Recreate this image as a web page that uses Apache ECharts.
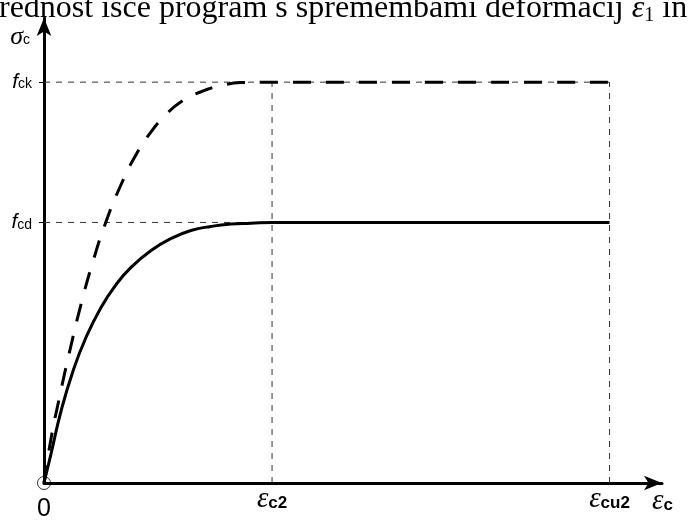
<!DOCTYPE html>
<html><head><meta charset="utf-8">
<script src="https://cdn.jsdelivr.net/npm/echarts@6/dist/echarts.min.js"></script>
<style>html,body{margin:0;padding:0;background:#fff}#c{width:689px;height:522px}</style>
</head><body><div id="c"></div>
<script>
// Strain marks on the horizontal axis (schematic units, not to scale)
const strainValues = [0, 2.0, 4.96];
const strainLabels = ['0', 'c2', 'cu2'];
// Stress levels marked on the vertical axis
const stressValues = [0.65, 1.0];
const stressLabels = ['cd', 'ck'];
// Characteristic parabola-rectangle curve (dashed)
const ckStrain = [0, 0.061, 0.132, 0.219, 0.325, 0.430, 0.544, 0.675, 0.807, 0.939, 1.070, 1.202, 1.377, 1.553, 1.728, 2.0, 4.96];
const ckStress = [0, 0.110, 0.209, 0.321, 0.446, 0.553, 0.652, 0.744, 0.819, 0.876, 0.919, 0.951, 0.976, 0.991, 0.999, 1.0, 1.0];
// Design parabola-rectangle curve (solid)
const cdStrain = [0, 0.061, 0.149, 0.254, 0.368, 0.5, 0.632, 0.763, 0.939, 1.114, 1.289, 1.465, 1.640, 1.816, 2.0, 4.96];
const cdStress = [0, 0.072, 0.179, 0.279, 0.363, 0.438, 0.495, 0.538, 0.580, 0.610, 0.630, 0.640, 0.646, 0.648, 0.65, 0.65];

const zip = (xs, ys) => xs.map((x, i) => [x, ys[i]]);
const fck = stressValues[1], fcd = stressValues[0];
const ec2 = strainValues[1], ecu2 = strainValues[2];

const guide = (data) => ({
  type: 'line', data, symbol: 'none', silent: true, z: 1,
  lineStyle: { color: '#333', width: 1, type: [6, 6] }
});

const chart = echarts.init(document.getElementById('c'));
chart.setOption({
  animation: false,
  backgroundColor: '#fff',
  title: {
    text: 'vrednost išče program s spremembami deformacij {e|ε}{s|1} in',
    left: -17, top: -8, padding: 0,
    textStyle: {
      fontFamily: 'Liberation Serif', fontSize: 32, fontWeight: 'normal', color: '#000',
      rich: {
        e: { fontFamily: 'Liberation Serif', fontStyle: 'italic', fontSize: 32, color: '#000' },
        s: { fontFamily: 'Liberation Serif', fontSize: 20, color: '#000', padding: [14, 0, 0, 0] }
      }
    }
  },
  grid: { left: 44, right: 27, top: 18, bottom: 38 },
  xAxis: {
    type: 'value', min: 0, max: 5.42,
    name: '{e|ε}{s|c}', nameLocation: 'end', nameGap: -10,
    nameTextStyle: {
      align: 'left', verticalAlign: 'top', padding: [4, 0, 0, 0],
      rich: {
        e: { fontFamily: 'Liberation Serif', fontStyle: 'italic', fontSize: 29, color: '#000' },
        s: { fontFamily: 'Liberation Sans', fontWeight: 'bold', fontSize: 17, color: '#000', padding: [8, 0, 0, 0] }
      }
    },
    axisLine: { show: true, onZero: false, symbol: ['none', 'arrow'], symbolSize: [11, 18],
      lineStyle: { color: '#000', width: 3 } },
    axisTick: { show: false },
    splitLine: { show: false },
    axisLabel: {
      customValues: strainValues, margin: 2,
      formatter: (v) => {
        const i = strainValues.indexOf(v);
        return i === 0 ? '{z|' + strainLabels[0] + '}' : '{e|ε}{s|' + strainLabels[i] + '}';
      },
      rich: {
        z: { fontFamily: 'Liberation Sans', fontSize: 25, color: '#000', padding: [12, 0, 0, 0] },
        e: { fontFamily: 'Liberation Serif', fontStyle: 'italic', fontSize: 29, color: '#000' },
        s: { fontFamily: 'Liberation Sans', fontWeight: 'bold', fontSize: 17, color: '#000', padding: [8, 0, 0, 0] }
      }
    }
  },
  yAxis: {
    type: 'value', min: 0, max: 1.16,
    name: '{e|σ}{s|c}', nameLocation: 'end', nameGap: -32,
    nameTextStyle: {
      align: 'right', padding: [0, 14, 0, 0],
      rich: {
        e: { fontFamily: 'Liberation Serif', fontStyle: 'italic', fontSize: 26, color: '#000' },
        s: { fontFamily: 'Liberation Sans', fontSize: 14, color: '#000', padding: [6, 0, 0, 0] }
      }
    },
    axisLine: { show: true, onZero: false, symbol: ['none', 'arrow'], symbolSize: [11, 18],
      lineStyle: { color: '#000', width: 3 } },
    axisTick: { show: true, customValues: stressValues, length: 5, lineStyle: { color: '#000', width: 1 } },
    splitLine: { show: false },
    axisLabel: {
      customValues: stressValues, margin: 12,
      formatter: (v) => '{f|f}{s|' + stressLabels[stressValues.indexOf(v)] + '}',
      rich: {
        f: { fontFamily: 'Liberation Sans', fontStyle: 'italic', fontSize: 21, color: '#000' },
        s: { fontFamily: 'Liberation Sans', fontSize: 14, color: '#000', padding: [5, 0, 0, 0] }
      }
    }
  },
  series: [
    guide([[0, fck], [ecu2, fck]]),
    guide([[0, fcd], [ec2, fcd]]),
    guide([[ec2, 0], [ec2, fck]]),
    guide([[ecu2, 0], [ecu2, fck]]),
    {
      name: 'fck', type: 'line', data: zip(ckStrain, ckStress), symbol: 'none',
      smooth: 0.5, z: 3,
      lineStyle: { color: '#000', width: 3, type: [18, 15] }
    },
    {
      name: 'fcd', type: 'line', data: zip(cdStrain, cdStress), symbol: 'none',
      smooth: 0.5, z: 3,
      lineStyle: { color: '#000', width: 3 }
    },
    {
      type: 'scatter', data: [[0, 0]], symbol: 'circle', symbolSize: 13, z: 4, silent: true,
      itemStyle: { color: 'rgba(255,255,255,0)', borderColor: '#000', borderWidth: 1 }
    }
  ]
});
</script>
</body></html>
